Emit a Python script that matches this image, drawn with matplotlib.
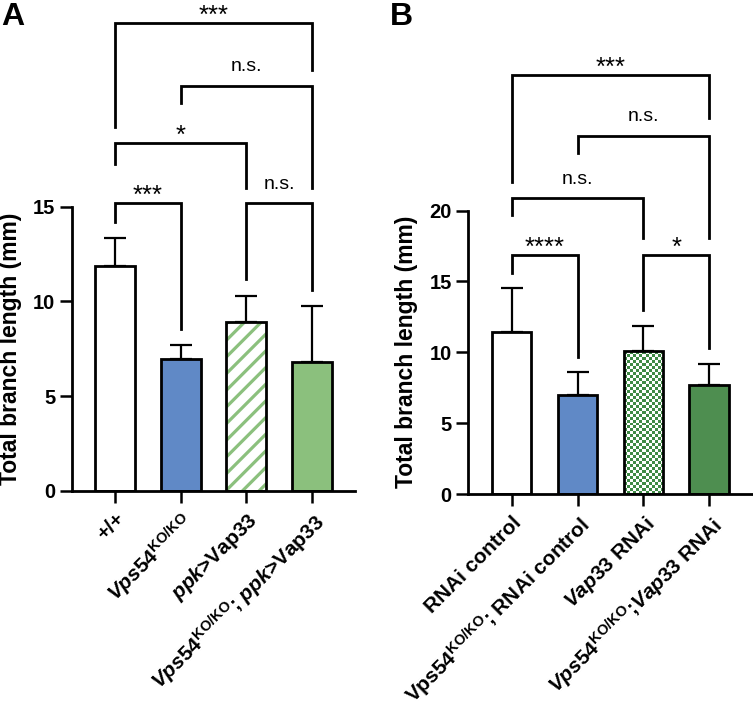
import numpy as np
import matplotlib
matplotlib.use("Agg")
import matplotlib.pyplot as plt
from matplotlib.transforms import offset_copy
from matplotlib.colors import ListedColormap

plt.rcParams['font.family'] = ['Liberation Sans', 'DejaVu Sans']
plt.rcParams['mathtext.fontset'] = 'custom'
plt.rcParams['mathtext.rm'] = 'Liberation Sans:bold'
plt.rcParams['mathtext.bf'] = 'Liberation Sans:bold'
plt.rcParams['mathtext.it'] = 'Liberation Sans:italic:bold'
plt.rcParams['hatch.linewidth'] = 2.3

# ---------------- data ----------------
labels_a = [r"+/+", r"$\mathit{Vps54}^{\mathrm{KO/KO}}$", r"$\mathit{ppk}$>Vap33",
            r"$\mathit{Vps54}^{\mathrm{KO/KO}}$; $\mathit{ppk}$>Vap33"]
means_a = [11.85, 6.97, 8.90, 6.80]
sd_a = [1.48, 0.73, 1.40, 2.96]
colors_a = ['white', '#6089C6', 'white', '#8BC07D']

labels_b = ["RNAi control", r"Vps54$^{\mathrm{KO/KO}}$; RNAi control",
            r"$\mathit{Vap33}$ RNAi", r"$\mathit{Vps54}^{\mathrm{KO/KO}}$;$\mathit{Vap33}$ RNAi"]
means_b = [11.46, 6.99, 10.09, 7.69]
sd_b = [3.06, 1.60, 1.79, 1.51]
colors_b = ['white', '#6089C6', 'white', '#4E8E50']

# brackets: (left group, right group, bar height, left leg end, right leg end, label)
brackets_a = [(0, 1, 15.18, 14.2, 8.52, '***'),
              (2, 3, 15.18, 11.18, 10.6, 'n.s.'),
              (0, 2, 18.38, 17.24, 15.97, '*'),
              (1, 3, 21.4, 20.46, 15.97, 'n.s.'),
              (0, 3, 24.69, 19.23, 22.2, '***')]
brackets_b = [(0, 1, 16.87, 15.57, 9.69, '****'),
              (2, 3, 16.87, 12.98, 10.28, '*'),
              (0, 2, 20.87, 19.69, 18.05, 'n.s.'),
              (1, 3, 25.26, 24.04, 18.05, 'n.s.'),
              (0, 3, 29.57, 22.04, 26.5, '***')]

W, H = 753, 709
fig = plt.figure(figsize=(W / 100, H / 100), dpi=100)

def make_axes(left_px, right_px, zero_px, ppu):
    ax = fig.add_axes([left_px / W, 1 - zero_px / H, (right_px - left_px) / W, zero_px / H])
    ax.set_ylim(0, zero_px / ppu)
    return ax

def style(ax, top, labels, xlim):
    ax.set_xlim(*xlim)
    for s in ['top', 'right']:
        ax.spines[s].set_visible(False)
    for s in ['left', 'bottom']:
        ax.spines[s].set_linewidth(2.0)
    ax.spines['left'].set_bounds(0, top)
    ax.set_yticks(np.arange(0, top + 1, 5))
    ax.set_xticks(range(len(labels)))
    ax.set_xticklabels(labels, rotation=45, ha='right', rotation_mode='anchor',
                       fontsize=15, fontweight='bold')
    ax.tick_params(axis='both', length=8.5, width=1.8)
    ax.tick_params(axis='y', labelsize=14.5)
    ax.tick_params(axis='x', pad=5)
    for t in ax.get_yticklabels():
        t.set_fontweight('bold')
    ax.set_ylabel('Total branch length (mm)', fontsize=16.5, fontweight='bold')

def draw_bars(ax, means, sd, colors, width):
    x = np.arange(len(means))
    bars = ax.bar(x, means, width=width, color=colors, edgecolor='black', linewidth=2.0, zorder=2)
    ax.errorbar(x, means, yerr=[np.zeros(len(sd)), sd], fmt='none', ecolor='black',
                elinewidth=1.6, capsize=8, capthick=1.6, zorder=1)
    return bars

def draw_brackets(ax, brackets):
    for i, j, y, yl, yr, lab in brackets:
        ax.plot([i, i, j, j], [yl, y, y, yr], color='black', lw=2.0,
                solid_joinstyle='miter', clip_on=False)
        if 'n' in lab:
            tr = offset_copy(ax.transData, fig=fig, x=0, y=10.5, units='points')
            ax.text((i + j) / 2, y, lab, ha='center', va='baseline', fontsize=14,
                    transform=tr)
        else:
            tr = offset_copy(ax.transData, fig=fig, x=0, y=0, units='points')
            ax.text((i + j) / 2, y, lab, ha='center', va='baseline', fontsize=18.5,
                    transform=tr)

# ---------------- panel A ----------------
axA = make_axes(72, 355, 490.7, 18.93)
barsA = draw_bars(axA, means_a, sd_a, colors_a, 0.61)
barsA[2].set_hatch('//')
barsA[2].set_edgecolor('#8BC07D')
barsA[2].set_linewidth(0)
# outline on top of hatched bar
axA.bar([2], [means_a[2]], width=0.61, color='none', edgecolor='black', linewidth=2.0, zorder=3)
style(axA, 15, labels_a, (-0.656, 3.66))
draw_brackets(axA, brackets_a)
axA.yaxis.set_label_coords(-0.178, 7.5 / axA.get_ylim()[1])

# ---------------- panel B ----------------
axB = make_axes(468.3, 752, 494, 14.17)
barsB = draw_bars(axB, means_b, sd_b, colors_b, 0.6)
# checkered fill for Vap33 RNAi bar
p = barsB[2]
bx0, bw, bh = p.get_x(), p.get_width(), p.get_height()
nx, ny = 13, int(round(bh * 14.17 / 3.0))
checker = (np.indices((ny, nx)).sum(axis=0) % 2).astype(float)
im = axB.imshow(checker, extent=(bx0, bx0 + bw, 0, bh), cmap=ListedColormap(['white', '#3F8A45']),
                interpolation='nearest', aspect='auto', zorder=1.5, origin='lower')
im.set_clip_path(p)
p.set_facecolor('none')
style(axB, 20, labels_b, (-0.659, 3.65))
axB.set_ylim(0, 494 / 14.17)
draw_brackets(axB, brackets_b)
axB.yaxis.set_label_coords(-0.177, 10 / axB.get_ylim()[1])

fig.text(1 / W, 1 - 17 / H, 'A', fontsize=23, fontweight='bold', va='center', ha='left')
fig.text(390 / W, 1 - 17 / H, 'B', fontsize=23, fontweight='bold', va='center', ha='left')

fig.savefig('out.png', dpi=100)
